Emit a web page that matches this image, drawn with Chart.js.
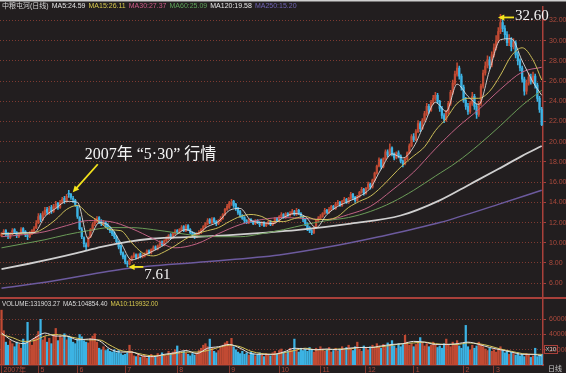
<!DOCTYPE html>
<html>
<head>
<meta charset="utf-8">
<script src="https://cdn.jsdelivr.net/npm/chart.js@4.4.1/dist/chart.umd.min.js"></script>
<style>
	html, body { margin: 0; padding: 0; background: #221e1f; }
	canvas { display: block; }
</style>
</head>
<body>
<canvas id="kline" width="566" height="373"></canvas>
<script>
// daily candles, 2007-04 .. 2008-03 (one entry per trading day)
const open = [
	10.7,10.9,11.2,10.9,10.5,10.9,11.3,11.0,10.6,10.9,
	11.4,11.1,10.8,10.6,10.9,11.1,11.5,12.0,12.7,12.3,
	12.8,13.3,12.9,13.5,13.1,13.5,13.9,13.5,14.0,14.4,
	14.1,14.9,14.8,14.4,14.2,13.6,12.5,11.3,10.5,9.8,
	9.7,10.6,11.3,11.9,12.1,12.5,12.1,11.8,12.0,11.7,
	11.5,11.2,11.0,10.6,10.1,9.7,9.0,8.7,8.0,7.9,
	8.3,8.6,8.8,8.5,8.9,8.6,8.7,8.9,9.2,9.0,
	9.3,9.6,9.4,9.7,10.1,9.8,10.2,10.4,10.8,10.5,
	10.9,11.2,11.0,11.3,11.6,11.2,11.7,11.3,11.0,10.9,
	10.6,10.9,11.0,11.3,11.6,11.9,12.3,12.0,12.4,12.1,
	11.9,12.2,12.4,12.8,13.3,13.5,13.9,14.1,13.8,13.4,
	13.1,12.7,12.5,12.2,12.0,12.3,12.1,11.9,12.2,12.0,
	11.8,12.0,11.7,11.9,12.1,11.8,12.0,12.4,12.2,12.6,
	12.8,12.5,12.9,12.7,12.9,13.1,12.8,13.2,12.9,12.6,
	12.3,11.9,11.5,11.2,11.0,11.5,12.2,12.4,12.6,12.9,
	13.2,13.0,13.3,13.6,13.4,13.8,14.0,13.7,14.1,14.3,
	14.0,14.4,14.8,14.5,14.2,14.6,15.0,15.3,14.9,15.4,
	15.8,15.5,16.2,16.9,17.6,18.2,17.5,18.3,19.0,18.7,
	19.4,18.8,18.4,18.9,18.6,18.1,17.8,18.3,18.9,19.6,
	20.5,20.2,21.0,21.8,21.3,22.1,22.8,23.5,23.1,23.9,
	24.3,24.6,24.0,23.3,22.6,22.2,22.9,23.8,24.9,25.8,
	26.7,27.3,26.5,25.4,24.1,23.5,23.0,23.8,24.5,23.5,
	22.7,23.8,25.5,26.8,27.5,28.1,27.6,28.6,29.3,30.0,
	30.9,31.8,31.2,30.6,29.8,30.1,29.4,29.8,28.6,28.0,
	27.3,26.2,25.0,25.8,26.4,26.0,26.5,25.6,24.3,23.2
];
const high = [
	11.0,11.3,11.3,11.0,11.0,11.4,11.4,11.1,11.0,11.5,
	11.5,11.2,10.9,11.1,11.3,11.6,12.2,12.9,12.9,13.1,
	13.5,13.5,13.6,13.7,13.8,14.1,14.0,14.2,14.5,14.6,
	14.8,15.2,14.9,14.6,14.3,13.7,12.6,11.5,10.6,10.0,
	10.6,11.4,12.0,12.4,12.6,12.6,12.3,12.2,12.1,11.9,
	11.6,11.3,11.1,10.7,10.2,9.8,9.1,8.8,8.2,8.4,
	8.7,9.0,8.9,8.9,9.0,8.9,9.0,9.3,9.3,9.4,
	9.7,9.7,9.8,10.2,10.2,10.3,10.6,10.8,10.9,11.0,
	11.3,11.3,11.4,11.7,11.7,11.8,11.8,11.4,11.1,11.0,
	11.0,11.2,11.4,11.7,12.0,12.4,12.4,12.5,12.5,12.2,
	12.3,12.6,12.9,13.4,13.8,14.1,14.3,14.2,13.9,13.5,
	13.2,12.8,12.6,12.3,12.4,12.4,12.2,12.3,12.3,12.1,
	12.1,12.1,12.0,12.2,12.2,12.1,12.5,12.5,12.7,13.0,
	12.9,13.0,13.0,13.1,13.3,13.2,13.4,13.3,13.0,12.7,
	12.4,12.0,11.6,11.3,11.6,12.3,12.6,12.8,13.0,13.4,
	13.3,13.5,13.7,13.7,14.0,14.2,14.1,14.2,14.5,14.4,
	14.5,15.0,14.9,14.6,14.7,15.1,15.5,15.4,15.5,16.0,
	15.9,16.3,17.0,17.7,18.4,18.3,18.4,19.2,19.2,19.8,
	19.5,18.9,19.0,19.1,18.7,18.2,18.4,19.0,19.8,20.7,
	20.8,21.2,22.1,22.0,22.3,23.0,23.8,23.7,24.1,24.6,
	24.9,24.8,24.1,23.5,22.8,23.1,24.0,25.1,26.1,27.0,
	27.8,27.5,26.7,25.6,24.4,23.8,24.0,24.9,24.7,23.7,
	24.0,25.7,27.1,27.9,28.5,28.4,28.9,29.7,30.5,31.3,
	32.6,32.2,31.5,30.9,30.6,30.3,30.2,30.0,28.9,28.2,
	27.5,26.4,26.1,26.8,26.7,26.9,26.7,25.8,24.5,23.4
];
const low = [
	10.6,10.8,10.7,10.4,10.4,10.8,10.9,10.5,10.5,10.8,
	10.9,10.6,10.3,10.5,10.8,11.0,11.4,11.9,12.1,12.2,
	12.7,12.8,12.8,12.9,13.0,13.4,13.3,13.4,13.9,13.9,
	14.0,14.5,14.3,14.0,13.6,12.4,11.3,10.4,9.6,9.3,
	9.6,10.5,11.2,11.7,12.0,11.9,11.7,11.7,11.5,11.3,
	11.0,10.7,10.4,9.9,9.4,8.8,8.4,7.9,7.61,7.8,
	8.2,8.5,8.4,8.4,8.5,8.5,8.6,8.8,8.9,8.9,
	9.2,9.3,9.3,9.6,9.7,9.7,10.1,10.3,10.4,10.4,
	10.8,10.9,10.9,11.2,11.1,11.1,11.2,10.9,10.6,10.4,
	10.5,10.8,10.9,11.2,11.5,11.8,11.9,11.9,12.0,11.7,
	11.8,12.1,12.3,12.7,13.2,13.4,13.7,13.5,13.2,12.8,
	12.5,12.3,12.0,11.9,11.9,12.0,11.8,11.8,11.9,11.6,
	11.7,11.6,11.6,11.8,11.7,11.7,11.9,12.1,12.1,12.5,
	12.4,12.4,12.6,12.6,12.8,12.7,12.7,12.8,12.5,12.1,
	11.7,11.2,11.0,10.8,10.9,11.4,12.1,12.3,12.5,12.8,
	12.9,12.9,13.2,13.3,13.3,13.7,13.6,13.6,14.0,13.9,
	13.9,14.3,14.3,14.0,14.1,14.5,14.9,14.7,14.8,15.3,
	15.3,15.4,16.1,16.8,17.5,17.3,17.4,18.2,18.5,18.6,
	18.6,18.2,18.3,18.4,17.9,17.5,17.7,18.2,18.8,19.5,
	20.0,20.1,20.9,21.0,21.2,22.0,22.6,22.8,23.0,23.7,
	24.1,23.8,23.0,22.3,21.9,22.0,22.7,23.6,24.7,25.6,
	26.5,26.2,25.1,23.9,23.2,22.7,22.8,23.6,23.2,22.3,
	22.5,23.6,25.3,26.6,27.3,27.2,27.4,28.4,29.1,29.8,
	30.7,30.9,30.2,29.5,29.5,29.0,29.2,28.3,27.6,27.0,
	25.9,24.6,24.7,25.6,25.7,25.8,25.3,24.0,22.9,21.6
];
const close = [
	10.9,11.1,10.8,10.6,10.9,11.2,11.0,10.7,10.9,11.3,
	11.1,10.8,10.6,10.9,11.2,11.4,11.9,12.6,12.3,12.9,
	13.2,13.0,13.4,13.1,13.6,13.8,13.5,14.0,14.3,14.1,
	14.6,14.8,14.5,14.3,13.8,12.6,11.4,10.6,9.9,9.6,
	10.5,11.3,11.8,12.2,12.4,12.1,11.9,12.0,11.6,11.5,
	11.2,10.9,10.6,10.1,9.6,9.0,8.6,8.1,7.9,8.3,
	8.6,8.8,8.5,8.8,8.6,8.7,8.9,9.2,9.0,9.3,
	9.5,9.4,9.7,10.0,9.8,10.2,10.4,10.7,10.5,10.9,
	11.1,11.0,11.3,11.5,11.2,11.6,11.3,11.0,10.8,10.6,
	10.9,11.0,11.3,11.6,11.9,12.2,12.0,12.3,12.1,11.9,
	12.2,12.4,12.8,13.3,13.6,13.9,14.0,13.7,13.4,13.0,
	12.7,12.4,12.2,12.0,12.3,12.1,11.9,12.2,12.0,11.8,
	12.0,11.7,11.9,12.1,11.8,12.0,12.4,12.2,12.6,12.8,
	12.5,12.9,12.7,12.9,13.1,12.8,13.2,12.9,12.6,12.3,
	11.9,11.4,11.2,11.0,11.5,12.2,12.4,12.6,12.9,13.2,
	13.0,13.3,13.6,13.4,13.8,14.0,13.7,14.1,14.3,14.0,
	14.4,14.8,14.5,14.2,14.6,15.0,15.3,14.9,15.4,15.8,
	15.5,16.2,16.9,17.6,18.2,17.5,18.3,19.0,18.7,19.3,
	18.8,18.4,18.9,18.6,18.1,17.8,18.3,18.9,19.6,20.5,
	20.2,21.0,21.8,21.3,22.1,22.8,23.5,23.1,23.9,24.3,
	24.6,24.0,23.3,22.6,22.2,22.9,23.8,24.9,25.8,26.7,
	27.3,26.5,25.4,24.1,23.5,23.0,23.8,24.5,23.5,22.7,
	23.8,25.5,26.8,27.5,28.1,27.6,28.6,29.3,30.0,30.9,
	31.8,31.2,30.6,29.8,30.1,29.4,29.8,28.6,28.0,27.3,
	26.2,25.0,25.8,26.4,26.0,26.5,25.6,24.3,23.2,21.7
];
// volume, thousands
const volK = [
	72,45,30,26,32,28,24,30,27,22,
	34,29,56,31,26,35,38,44,60,33,
	37,30,35,28,40,48,32,38,36,41,
	33,38,36,30,28,34,40,37,32,30,
	29,35,38,41,30,22,20,24,19,21,
	18,17,20,16,19,15,13,14,16,26,
	18,12,11,14,10,12,13,9,11,14,
	12,10,15,13,16,14,12,18,15,17,
	20,25,17,15,18,16,14,12,15,13,
	16,19,22,26,28,24,34,22,18,16,
	19,23,26,29,31,27,35,24,20,17,
	15,18,14,16,13,17,15,12,14,16,
	13,11,15,14,12,16,18,14,19,21,
	17,15,18,22,19,34,20,17,22,19,
	21,18,23,20,17,22,19,24,21,18,
	20,23,17,19,22,18,21,24,20,23,
	26,22,19,24,30,21,18,25,22,20,
	24,26,23,28,25,22,27,24,29,26,
	32,25,22,28,24,27,39,30,26,28,
	24,27,31,36,29,25,28,24,26,30,
	27,23,25,22,28,34,26,24,30,27,
	32,25,22,28,52,24,20,26,22,25,
	30,27,24,21,19,22,18,20,17,21,
	24,19,16,18,14,17,15,13,16,12,
	14,11,15,13,10,12,22,11,13,14
];

// moving averages, at the listed trading days
const maDays5 = [0,5,10,15,20,25,30,35,40,45,50,55,60,65,70,75,80,85,90,95,100,105,110,115,120,125,
	130,135,140,145,150,155,160,165,170,175,180,185,190,195,200,205,210,215,220,225,230,235,240,245,249];
const ma5 = [10.9,10.9,11.0,11.0,12.6,13.4,14.1,14.0,10.4,12.0,11.6,10.0,8.3,8.7,9.2,9.8,10.7,11.3,10.9,11.6,
	12.1,13.2,13.4,12.2,12.0,11.9,12.5,12.9,12.6,11.5,12.8,13.6,14.1,14.6,15.4,17.3,18.8,18.4,19.5,21.8,
	23.9,23.0,25.7,24.5,23.7,27.1,30.1,30.2,28.0,25.9,24.6];
const ma15 = [10.9,10.9,10.95,11.0,11.5,12.3,13.3,13.7,12.8,12.1,11.3,11.2,10.0,9.0,8.7,9.1,9.7,10.4,10.9,11.2,
	11.5,12.1,12.6,12.8,12.6,12.1,12.1,12.4,12.6,12.3,12.3,12.6,13.5,14.1,14.6,15.5,16.6,17.7,18.6,19.5,
	21.1,22.3,23.8,24.3,24.3,25.0,26.6,28.5,29.3,28.1,26.11];
const maDays10 = [0,10,20,30,40,50,60,70,80,90,100,110,120,130,140,150,160,170,180,190,200,210,220,230,240,249];
const ma30 = [10.6,10.8,11.1,11.7,12.2,12.1,11.4,10.4,9.5,9.9,10.9,11.8,12.3,12.5,12.4,12.3,12.8,13.6,15.2,17.0,
	19.3,21.4,23.2,25.2,26.9,27.37];
const ma60 = [9.5,9.9,10.3,10.8,11.2,11.5,11.5,11.3,11.0,10.7,10.6,10.6,10.9,11.3,11.8,12.2,12.5,13.1,14.0,15.2,
	16.6,18.0,19.7,21.6,23.6,25.09];
const ma120Days = [0,12,23,35,46,58,69,92,115,138,161,184,202,216,229,240,249];
const ma120 = [7.4,7.9,8.4,9.0,9.6,10.1,10.4,10.6,10.9,11.3,11.9,12.7,14.2,15.8,17.3,18.6,19.58];
const ma250Days = [0,23,58,92,128,151,174,202,229,249];
const ma250 = [5.5,6.2,7.45,8.1,8.8,9.6,10.6,12.0,13.8,15.2];
const volMa5 = [42,32,28,35,42,38,38,33,34,32,21,17,17,12,11,14,16,19,15,22,24,27,22,15,14,14,17,22,21,20,
	21,20,22,23,23,25,27,28,31,30,27,27,28,30,27,23,20,17,14,14,12];
const volMa10 = [40,36,31,32,38,40,38,35,33,33,26,19,17,14,12,13,15,17,17,19,23,26,24,18,15,14,16,19,22,20,
	20,21,21,23,23,24,26,28,29,30,28,27,27,29,28,25,21,18,15,14,14];

// axes and legends
const monthStarts = [0,17,35,57,81,105,128,147,168,190,213,227];
const monthLabels = ['2007年','5','6','7','8','9','10','11','12','1','2','3'];
const priceTicks = [6,8,10,12,14,16,18,20,22,24,26,28,30,32];
const volTicks = [20,40,60];
const volTickLabels = ['20000','40000','60000'];
const stockName = '中粮屯河(日线)';
const maNames = ['MA5','MA15','MA30','MA60','MA120','MA250'];
const maLast = [24.59,26.11,27.37,25.09,19.58,15.20];
const volNames = ['VOLUME','MA5','MA10'];
const volLast = [131903.27,104854.40,119932.00];
const noteDays = [31,58,230];
const noteTexts = ['2007年 “5·30” 行情','7.61','32.60'];

const sans = '"Liberation Sans", "Noto Sans CJK SC", sans-serif';
const serif = '"Liberation Serif", "Noto Sans CJK SC", serif';
const bg = '#221e1f';
const frameRed = '#a9403a';
const gridRed = '#7e3a31';
const axisText = '#ad4a3c';
const upColor = '#c14a33';
const downColor = '#3cb3e4';
const maColors = ['#e4e4e4','#d9ca4e','#cf5b88','#5fa55a','#e8e8e8','#7064b4'];
const lineColors = ['#dcdcdc','#cbbd58','#bf6183','#6b9c58','#cfcfcf','#6c5a9e'];

const days = close.map((c, i) => i);
const candleColor = ctx => close[ctx.dataIndex] >= open[ctx.dataIndex] ? upColor : downColor;

function maLine(xs, ys, color, width, axis)
{
	return {
		type: 'line',
		data: xs.map((d, k) => ({x: d, y: ys[k]})),
		borderColor: color,
		borderWidth: width,
		pointRadius: 0,
		cubicInterpolationMode: 'monotone',
		yAxisID: axis,
		order: 0
	};
}

function drawArrow(ctx, fx, fy, tx, ty)
{
	const ang = Math.atan2(ty - fy, tx - fx);
	const head = 7;
	ctx.strokeStyle = '#f4e31c';
	ctx.fillStyle = '#f4e31c';
	ctx.lineWidth = 1.8;
	ctx.beginPath();
	ctx.moveTo(fx, fy);
	ctx.lineTo(tx - Math.cos(ang) * head * 0.8, ty - Math.sin(ang) * head * 0.8);
	ctx.stroke();
	ctx.beginPath();
	ctx.moveTo(tx, ty);
	ctx.lineTo(tx - head * Math.cos(ang - 0.45), ty - head * Math.sin(ang - 0.45));
	ctx.lineTo(tx - head * Math.cos(ang + 0.45), ty - head * Math.sin(ang + 0.45));
	ctx.closePath();
	ctx.fill();
}

function flowText(ctx, parts, x, y)
{
	for (const [text, color] of parts) {
		ctx.fillStyle = color;
		ctx.fillText(text, x, y);
		x += ctx.measureText(text).width + 3;
	}
}

const paneDecor = {
	id: 'paneDecor',
	beforeDraw(chart) {
		const {ctx, width, height} = chart;
		ctx.save();
		ctx.fillStyle = bg;
		ctx.fillRect(0, 0, width, height);
		ctx.fillStyle = '#cfcfcf';
		ctx.fillRect(0, 0, width, 1.5);
		ctx.restore();
	},
	afterDraw(chart) {
		const {ctx, width, scales: {x, y, yv}} = chart;
		ctx.save();
		// separator between price and volume panes
		ctx.fillStyle = frameRed;
		ctx.fillRect(0, Math.round(y.bottom) - 1, width, 2);

		ctx.textBaseline = 'middle';
		ctx.font = '7px ' + sans;
		flowText(ctx, [[stockName, '#d6d6d6']].concat(
			maNames.map((n, k) => [n + ':' + maLast[k].toFixed(2), maColors[k]])), 2, 6);
		ctx.font = '6.3px ' + sans;
		flowText(ctx, volNames.map((n, k) => [n + ':' + volLast[k].toFixed(2), k == 2 ? maColors[1] : '#dcdcdc']),
			2, y.bottom + 6);

		// unit box and period tag at the right edge
		ctx.strokeStyle = frameRed;
		ctx.lineWidth = 1;
		ctx.strokeRect(544.5, yv.bottom - 19.5, 13, 8);
		ctx.fillStyle = '#c8c8c8';
		ctx.font = '6px ' + sans;
		ctx.fillText('X10', 545.5, yv.bottom - 15.5);
		ctx.font = '7px ' + sans;
		ctx.fillText('日线', 548, yv.bottom + 4);

		// callouts
		let d = noteDays[0];
		let tx = x.getPixelForValue(d) + 4, ty = y.getPixelForValue(high[d]) + 2;
		drawArrow(ctx, tx + 25, ty - 28, tx, ty);
		ctx.fillStyle = '#f4f4f4';
		ctx.textBaseline = 'alphabetic';
		ctx.font = '16px ' + serif;
		ctx.fillText(noteTexts[0], tx + 12, ty - 33);

		d = noteDays[1];
		tx = x.getPixelForValue(d) + 1;
		ty = y.getPixelForValue(low[d]);
		drawArrow(ctx, tx + 15, ty, tx, ty);
		ctx.fillStyle = '#f4f4f4';
		ctx.font = '15px ' + serif;
		ctx.fillText(noteTexts[1], tx + 16, ty + 12.5);

		d = noteDays[2];
		tx = x.getPixelForValue(d) - 2.5;
		ty = y.getPixelForValue(high[d]) + 3;
		drawArrow(ctx, tx + 16, ty, tx, ty);
		ctx.fillStyle = '#f4f4f4';
		ctx.font = '15px ' + serif;
		ctx.fillText(noteTexts[2], tx + 17, ty + 3);
		ctx.restore();
	}
};

Chart.defaults.font.family = sans;
Chart.defaults.font.size = 7;

const chart = new Chart(document.getElementById('kline').getContext('2d'), {
	type: 'bar',
	data: {
		datasets: [
			{
				label: 'shadow',
				data: days.map(i => ({x: i, y: [low[i], high[i]]})),
				backgroundColor: candleColor,
				barThickness: 0.9,
				grouped: false,
				yAxisID: 'y',
				order: 3
			},
			{
				label: 'body',
				data: days.map(i => ({x: i, y: [open[i], close[i]]})),
				backgroundColor: candleColor,
				barThickness: 1.6,
				minBarLength: 1,
				grouped: false,
				yAxisID: 'y',
				order: 2
			},
			{
				label: 'volume',
				data: days.map(i => ({x: i, y: volK[i]})),
				backgroundColor: candleColor,
				barThickness: 1.6,
				grouped: false,
				yAxisID: 'yv',
				order: 2
			},
			maLine(maDays5, ma5, lineColors[0], 0.9, 'y'),
			maLine(maDays5, ma15, lineColors[1], 1, 'y'),
			maLine(maDays10, ma30, lineColors[2], 1, 'y'),
			maLine(maDays10, ma60, lineColors[3], 1, 'y'),
			maLine(ma120Days, ma120, lineColors[4], 1.8, 'y'),
			maLine(ma250Days, ma250, lineColors[5], 1.5, 'y'),
			maLine(maDays5, volMa5, '#e0e0e0', 1, 'yv'),
			maLine(maDays5, volMa10, '#d6c659', 1, 'yv')
		]
	},
	options: {
		responsive: false,
		animation: false,
		events: [],
		layout: {padding: {top: 2, left: 0, right: 0, bottom: 0}},
		plugins: {
			legend: {display: false},
			tooltip: {enabled: false}
		},
		scales: {
			x: {
				type: 'linear',
				position: 'bottom',
				offset: false,
				min: -0.7,
				max: 249.6,
				afterBuildTicks: s => { s.ticks = monthStarts.map(v => ({value: v})); },
				afterFit: s => { s.height = 8; },
				ticks: {
					autoSkip: false,
					maxRotation: 0,
					minRotation: 0,
					align: 'start',
					labelOffset: 2,
					padding: -7,
					color: axisText,
					callback: (v, k) => monthLabels[k]
				},
				grid: {offset: false, drawOnChartArea: false, drawTicks: true, tickLength: 8, tickColor: '#86382e'},
				border: {color: frameRed, width: 1.5}
			},
			y: {
				type: 'linear',
				position: 'right',
				stack: 'panes',
				stackWeight: 295,
				min: 4.537,
				max: 33.317,
				afterBuildTicks: s => { s.ticks = priceTicks.map(v => ({value: v})); },
				afterFit: s => { s.width = 23; },
				ticks: {color: axisText, padding: 3, callback: v => v.toFixed(2)},
				grid: {color: gridRed, tickLength: 3, tickColor: frameRed},
				border: {color: frameRed, width: 1.5, dash: [1, 2]}
			},
			yv: {
				type: 'linear',
				position: 'right',
				stack: 'panes',
				stackWeight: 68,
				min: 0,
				max: 88,
				afterBuildTicks: s => { s.ticks = volTicks.map(v => ({value: v})); },
				afterFit: s => { s.width = 23; },
				ticks: {color: axisText, padding: 3, callback: (v, k) => volTickLabels[k]},
				grid: {color: gridRed, tickLength: 3, tickColor: frameRed},
				border: {color: frameRed, width: 1.5, dash: [1, 2]}
			}
		}
	},
	plugins: [paneDecor]
});
</script>
</body>
</html>
